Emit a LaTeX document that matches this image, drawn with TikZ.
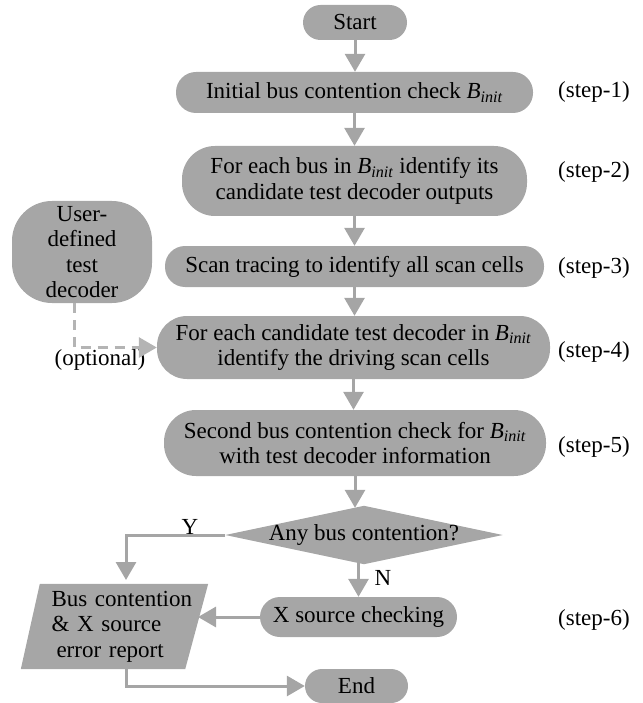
\documentclass[tikz,border=0pt]{standalone}
\usepackage{fontspec}
\setmainfont{Liberation Serif}
\usetikzlibrary{arrows.meta,calc,backgrounds}
\definecolor{boxgray}{RGB}{166,166,166}
\definecolor{linegray}{RGB}{165,165,165}
\definecolor{dashgray}{RGB}{180,180,180}
\newcommand{\Binit}{\textit{B}\textsubscript{\textit{init}}}
\begin{document}
\begin{tikzpicture}[x=1pt,y=1pt,
  every node/.style={font=\fontsize{23}{25.5}\selectfont, inner sep=0pt},
  procbox/.style={fill=boxgray, align=center},
  flow/.style={draw=linegray, line width=3pt, -{Triangle[width=20pt,length=18pt]}},
  dflow/.style={draw=dashgray, line width=3pt, dash pattern=on 10pt off 7pt, -{Triangle[width=20pt,length=18pt]}},
  steplabel/.style={anchor=west}
]
\useasboundingbox (0,0) rectangle (642,-703);

\node[procbox, minimum width=104pt, minimum height=35pt, rounded corners=17.5pt] (start) at (355,-22.5) {Start};
\node[procbox, minimum width=357pt, minimum height=41pt, rounded corners=20pt] (s1) at (354.5,-92.5) {Initial bus contention check \Binit};
\node[procbox, minimum width=345pt, minimum height=70pt, rounded corners=33pt] (s2) at (354.5,-181) {For each bus in \Binit\ identify its\\candidate test decoder outputs};
\node[procbox, minimum width=379pt, minimum height=41pt, rounded corners=20pt] (s3) at (354.5,-266.5) {Scan tracing to identify all scan cells};
\node[procbox, minimum width=393pt, minimum height=63pt, rounded corners=30pt] (s4) at (353.5,-347.5) {For each candidate test decoder in \Binit\\identify the driving scan cells};
\node[procbox, minimum width=382pt, minimum height=66pt, rounded corners=32pt] (s5) at (355,-443) {Second bus contention check for \Binit\\with test decoder information};
\node[minimum width=277pt, minimum height=58pt] (dec) at (364,-535) {Any bus contention?};
\node[procbox, minimum width=197pt, minimum height=40pt, rounded corners=20pt] (xsrc) at (358.5,-617) {X source checking};
\node[procbox, minimum width=103pt, minimum height=34pt, rounded corners=17pt] (endn) at (356.5,-686) {End};
\node[minimum width=187pt, minimum height=89pt, align=left, text width=170pt] (report) at (114.5,-626.5) {\hspace*{22pt}\mbox{Bus contention}\\\hspace*{22pt}\mbox{\& X source}\\\hspace*{27pt}\mbox{error report}};
\node[procbox, minimum width=140pt, minimum height=102pt, rounded corners=40pt] (user) at (82,-252) {User-\\defined\\test\\decoder};

\begin{scope}[on background layer]
\fill[boxgray] (dec.west) -- (dec.north) -- (dec.east) -- (dec.south) -- cycle;
\fill[boxgray] ($(report.north west)+(19,-2)$) -- ($(report.north east)+(0,-2)$) -- ($(report.south east)+(-23,2)$) -- ($(report.south west)+(0,2)$) -- cycle;
\end{scope}

\node[steplabel] (l1) at (558,-92) {(step-1)};
\node[steplabel] (l2) at (558,-172) {(step-2)};
\node[steplabel] (l3) at (558,-268) {(step-3)};
\node[steplabel] (l4) at (558,-352) {(step-4)};
\node[steplabel] (l5) at (558,-447) {(step-5)};
\node[steplabel] (l6) at (558,-620) {(step-6)};

\node (opt) at (100,-360) {(optional)};
\node (ylab) at (190,-527) {Y};
\node (nlab) at (383,-578) {N};

\draw[flow] (start.south) -- (start.south |- s1.north);
\draw[flow] (s1.south) -- (s1.south |- s2.north);
\draw[flow] (s2.south) -- (s2.south |- s3.north);
\draw[flow] (s3.south) -- (s3.south |- s4.north);
\draw[flow] (s4.south) -- (s4.south |- s5.north);
\draw[flow] (s5.south) -- ([yshift=-2pt]s5.south |- dec.north);
\draw[flow] ([yshift=4pt]xsrc.north |- dec.south) -- (xsrc.north);
\coordinate (ytop) at (126,-580);
\draw[flow] (dec.west) -| (ytop);
\coordinate (rtip) at (198,-620);
\draw[flow] (xsrc.west) -- (xsrc.west -| rtip);
\coordinate (rbot) at (126,-669);
\draw[flow] (rbot) |- (endn.west);
\coordinate (ubot) at (74,-303);
\draw[dflow] (ubot) |- (s4.west);
\end{tikzpicture}
\end{document}
